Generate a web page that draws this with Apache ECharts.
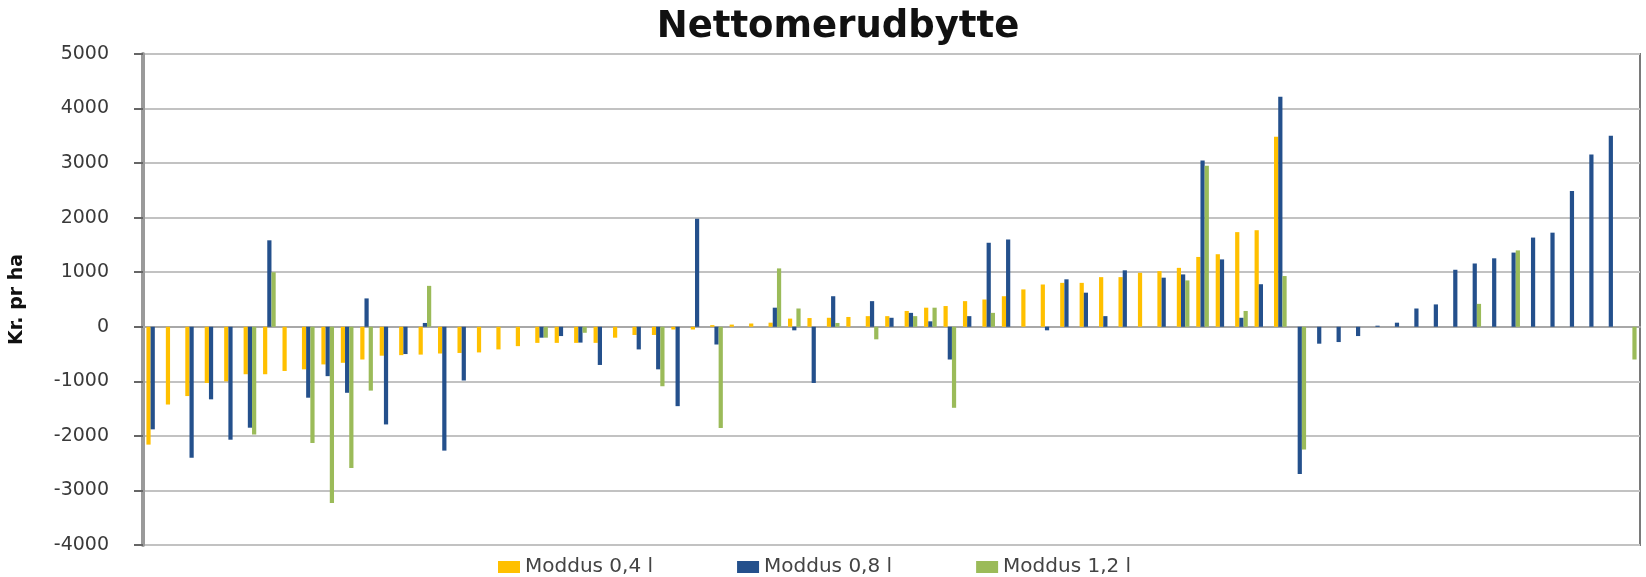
<!DOCTYPE html>
<html>
<head>
<meta charset="utf-8">
<script src="https://cdn.jsdelivr.net/npm/echarts@6/dist/echarts.min.js"></script>
<style>
  html, body { margin: 0; padding: 0; background: #ffffff; }
  #chart { width: 1646px; height: 577px; }
</style>
</head>
<body>
<div id="chart"></div>
<script>
const chartTitle = 'Nettomerudbytte';
const yAxisName = 'Kr. pr ha';
const seriesNames = ['Moddus 0,4 l', 'Moddus 0,8 l', 'Moddus 1,2 l'];

const categories = ['1','2','3','4','5','6','7','8','9','10','11','12','13','14','15','16','17','18','19','20',
  '21','22','23','24','25','26','27','28','29','30','31','32','33','34','35','36','37','38','39','40',
  '41','42','43','44','45','46','47','48','49','50','51','52','53','54','55','56','57','58','59','60',
  '61','62','63','64','65','66','67','68','69','70','71','72','73','74','75','76','77'];

const moddus04 = [-2160, -1425, -1270, -1030, -1000, -870, -870, -810, -780, -690,
  -660, -600, -530, -520, -510, -490, -480, -470, -415, -355,
  -295, -295, -295, -295, -200, -150, -150, -50, -50, 30,
  40, 60, 75, 150, 160, 165, 180, 195, 195, 290,
  350, 380, 470, 500, 560, 685, 775, 805, 805, 910,
  910, 990, 1020, 1080, 1280, 1330, 1735, 1770, 3485, null,
  null, null, null, null, null, null, null, null, null, null,
  null, null, null, null, null, null, null];

const moddus08 = [-1880, null, -2400, -1330, -2070, -1850, 1585, null, -1300, -905,
  -1210, 520, -1790, -500, 70, -2270, -985, null, null, null,
  -200, -170, -290, -700, null, -415, -780, -1455, 1980, -325,
  null, null, 350, -65, -1030, 560, null, 470, 165, 255,
  100, -600, 195, 1540, 1600, null, -65, 870, 625, 195,
  1035, null, 900, 960, 3050, 1235, 165, 780, 4215, -2700,
  -310, -280, -170, 20, 75, 335, 410, 1045, 1160, 1255,
  1360, 1635, 1725, 2490, 3160, 3500, null];

const moddus12 = [null, null, null, null, null, -1975, 1000, null, -2130, -3230,
  -2590, -1170, null, null, 750, null, null, null, null, null,
  -200, null, -110, null, null, null, -1090, null, null, -1855,
  null, null, 1070, 335, null, 70, null, -230, null, 195,
  350, -1485, null, 255, null, null, null, null, null, null,
  null, null, null, 850, 2950, null, 290, null, 930, -2250,
  null, null, null, null, null, null, null, null, 420, null,
  1400, null, null, null, null, null, -600];

const seriesColors = ['#FFC000', '#24508C', '#9BBB59'];

const yMin = -4000, yMax = 5000, yStep = 1000;
const yTickLabels = ['-4000', '-3000', '-2000', '-1000', '0', '1000', '2000', '3000', '4000', '5000'];

const chart = echarts.init(document.getElementById('chart'), null, { renderer: 'canvas' });

const seriesData = [moddus04, moddus08, moddus12];

chart.setOption({
  backgroundColor: '#ffffff',
  animation: false,
  title: {
    text: chartTitle,
    left: 833,
    textAlign: 'center',
    top: 4,
    textStyle: {
      fontFamily: 'DejaVu Sans',
      fontWeight: 'bold',
      fontSize: 37,
      color: '#111111'
    }
  },
  legend: {
    data: seriesNames,
    left: 493,
    top: 552,
    itemWidth: 22,
    itemHeight: 12,
    itemGap: 84,
    icon: 'rect',
    textStyle: {
      fontFamily: 'DejaVu Sans',
      fontSize: 20,
      color: '#444444'
    }
  },
  grid: {
    left: 143,
    right: 6,
    top: 54,
    bottom: 32,
    show: true,
    borderColor: '#7a7a7a',
    borderWidth: 2,
    containLabel: false
  },
  xAxis: {
    type: 'category',
    data: categories,
    axisLine: { show: true, onZero: true, lineStyle: { color: '#a8a8a8', width: 2 } },
    axisTick: { show: false },
    axisLabel: { show: false },
    splitLine: { show: false }
  },
  yAxis: {
    type: 'value',
    min: yMin,
    max: yMax,
    interval: yStep,
    name: yAxisName,
    nameLocation: 'middle',
    nameGap: 116,
    nameTextStyle: {
      fontFamily: 'DejaVu Sans',
      fontWeight: 'bold',
      fontSize: 19,
      color: '#111111'
    },
    axisLine: { show: true, lineStyle: { color: '#9a9a9a', width: 4 } },
    axisTick: { show: true, length: 9, lineStyle: { color: '#666666', width: 2 } },
    axisLabel: {
      margin: 34,
      fontFamily: 'DejaVu Sans',
      fontSize: 19,
      color: '#3a3a3a',
      formatter: function (v) { return yTickLabels[Math.round((v - yMin) / yStep)]; }
    },
    splitLine: { show: true, lineStyle: { color: '#c2c2c2', width: 2 } }
  },
  series: seriesNames.map(function (name, i) {
    return {
      name: name,
      type: 'bar',
      data: seriesData[i],
      barGap: '0%',
      barCategoryGap: '35%',
      itemStyle: { color: seriesColors[i] }
    };
  })
});
</script>
</body>
</html>
